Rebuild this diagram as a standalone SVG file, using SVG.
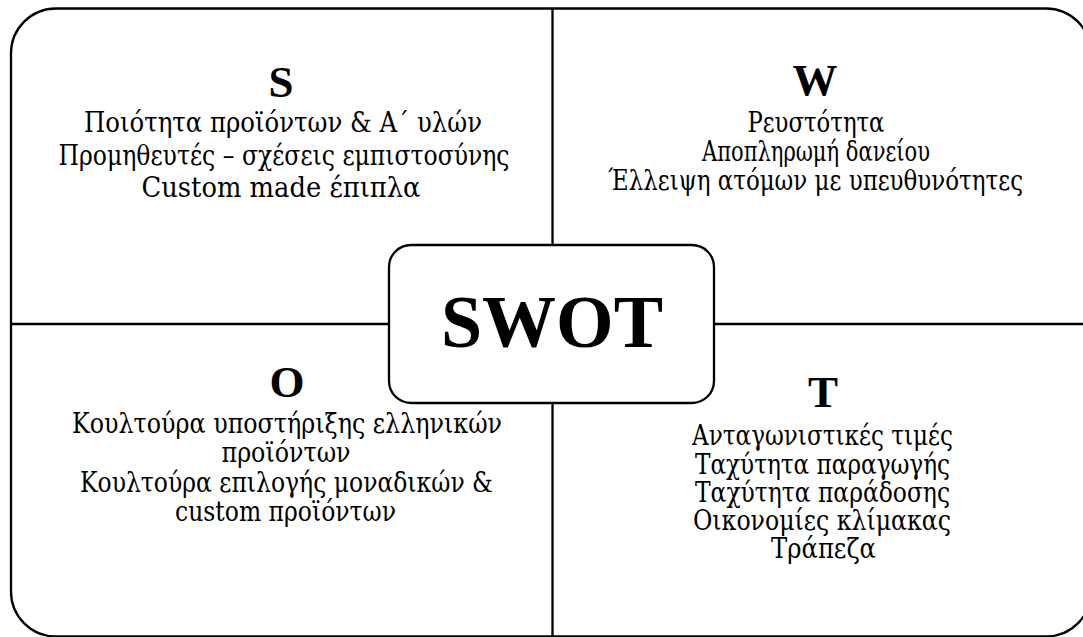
<svg xmlns="http://www.w3.org/2000/svg" width="1083" height="637" viewBox="0 0 1083 637">
<style>
.ln{stroke:#000;stroke-width:2.3;fill:none}
.h{font-family:"Liberation Serif","Times New Roman",serif;font-weight:bold;font-size:45px;text-anchor:middle;fill:#000}
.t{font-family:"DejaVu Serif","Liberation Serif",serif;font-weight:normal;font-size:27px;text-anchor:middle;fill:#000}
.big{font-family:"Liberation Serif","Times New Roman",serif;font-weight:bold;font-size:74px;text-anchor:middle;fill:#000}
</style>
<rect width="1083" height="637" fill="#fff"/>
<g id="frame">
<rect class="ln" x="11" y="8.5" width="1080" height="628" rx="45" ry="45"/>
</g>
<g id="connectors">
<line class="ln" x1="552.5" y1="8.5" x2="552.5" y2="637"/>
<line class="ln" x1="11" y1="324" x2="1091" y2="324"/>
</g>
<g id="S">
<text class="h" x="281" y="97">S</text>
<text class="t" x="283" y="132" textLength="398" lengthAdjust="spacingAndGlyphs">Ποιότητα προϊόντων &amp; Α΄ υλών</text>
<text class="t" x="284" y="165" textLength="451" lengthAdjust="spacingAndGlyphs">Προμηθευτές – σχέσεις εμπιστοσύνης</text>
<text class="t" x="281" y="197" textLength="279" lengthAdjust="spacingAndGlyphs">Custom made έπιπλα</text>
</g>
<g id="W">
<text class="h" x="815" y="95">W</text>
<text class="t" x="816" y="132" textLength="137" lengthAdjust="spacingAndGlyphs">Ρευστότητα</text>
<text class="t" x="816" y="161" textLength="228" lengthAdjust="spacingAndGlyphs">Αποπληρωμή δανείου</text>
<text class="t" x="815.5" y="190" textLength="415" lengthAdjust="spacingAndGlyphs">Έλλειψη ατόμων με υπευθυνότητες</text>
</g>
<g id="O">
<text class="h" x="287" y="397">O</text>
<text class="t" x="287" y="433" textLength="430" lengthAdjust="spacingAndGlyphs">Κουλτούρα υποστήριξης ελληνικών</text>
<text class="t" x="286" y="462" textLength="129" lengthAdjust="spacingAndGlyphs">προϊόντων</text>
<text class="t" x="286.5" y="492" textLength="413" lengthAdjust="spacingAndGlyphs">Κουλτούρα επιλογής μοναδικών &amp;</text>
<text class="t" x="285.5" y="521" textLength="221" lengthAdjust="spacingAndGlyphs">custom προϊόντων</text>
</g>
<g id="T">
<text class="h" x="823" y="407">T</text>
<text class="t" x="822.5" y="445" textLength="261" lengthAdjust="spacingAndGlyphs">Ανταγωνιστικές τιμές</text>
<text class="t" x="822.5" y="474" textLength="255" lengthAdjust="spacingAndGlyphs">Ταχύτητα παραγωγής</text>
<text class="t" x="822.5" y="502" textLength="255" lengthAdjust="spacingAndGlyphs">Ταχύτητα παράδοσης</text>
<text class="t" x="822" y="530" textLength="258" lengthAdjust="spacingAndGlyphs">Οικονομίες κλίμακας</text>
<text class="t" x="823.5" y="558" textLength="105" lengthAdjust="spacingAndGlyphs">Τράπεζα</text>
</g>
<g id="SWOT">
<rect class="ln" x="389" y="245" width="325" height="158" rx="22" ry="22" style="fill:#fff"/>
<text class="big" x="552" y="347">SWOT</text>
</g>
</svg>
